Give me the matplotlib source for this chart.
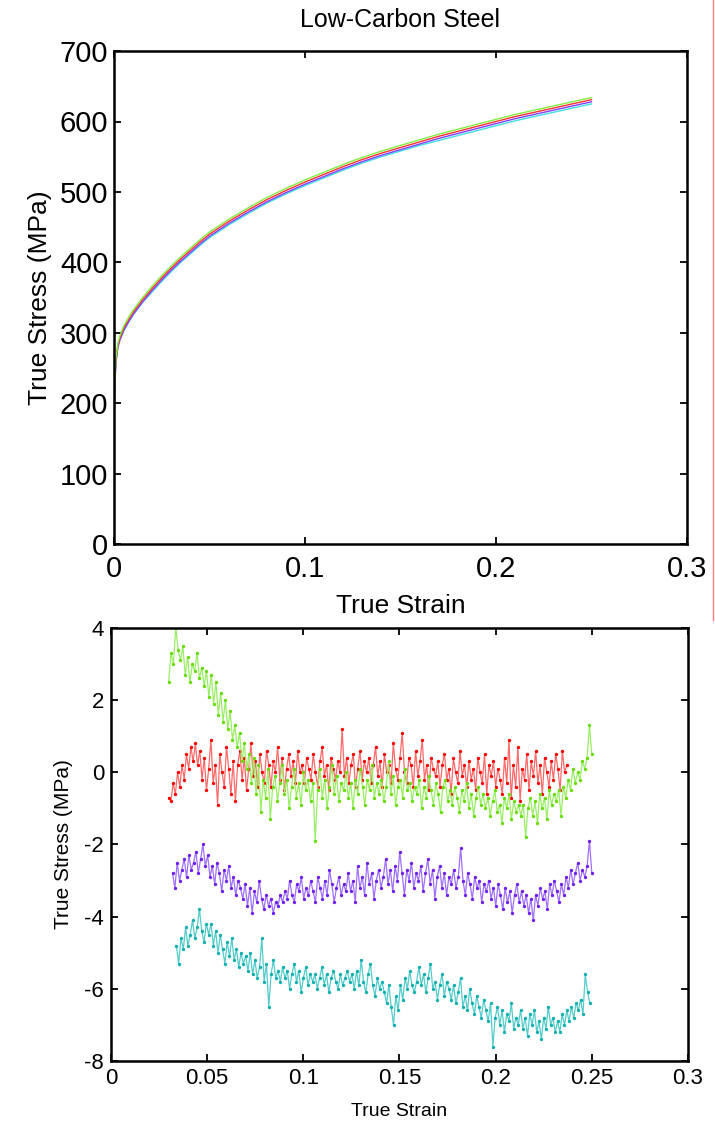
import numpy as np
import matplotlib
matplotlib.use("Agg")
import matplotlib.pyplot as plt
from matplotlib.lines import Line2D

plt.rcParams['font.family'] = ['Liberation Sans', 'DejaVu Sans']
plt.rcParams['axes.unicode_minus'] = False

# top panel: true stress-strain curves (four specimens)
strain_top = [0, 0.0005, 0.001, 0.002, 0.003, 0.005, 0.0075, 0.01, 0.015, 0.02, 0.025,
              0.03, 0.035, 0.04, 0.045, 0.05, 0.06, 0.07, 0.08, 0.09, 0.1, 0.11, 0.12,
              0.13, 0.14, 0.15, 0.16, 0.17, 0.18, 0.19, 0.2, 0.21, 0.22, 0.23, 0.24, 0.25]
stress_red = [165, 235, 260, 282, 292, 306, 318, 329, 347, 363, 378, 392, 405, 417, 429,
              440, 458, 474, 489, 502, 514, 525, 536, 546, 555, 563, 571, 579, 586, 593,
              600, 607, 613, 619, 625, 631]
stress_green = [170, 238, 263, 285, 295, 309, 321, 332, 350, 366, 381, 395, 408, 420, 432,
                443, 461, 477, 492, 505, 517, 528, 539, 549, 558, 566, 574, 582, 589, 596,
                603, 610, 616, 622, 628, 634]
stress_purple = [160, 230, 256, 279, 289, 303, 315, 326, 344, 360, 375, 389, 402, 414, 426,
                 437, 455, 471, 486, 499, 511, 522, 533, 543, 552, 560, 568, 576, 583, 590,
                 597, 604, 610, 616, 622, 628]
stress_cyan = [168, 232, 257, 279, 289, 302, 314, 325, 343, 358, 373, 387, 400, 412, 424,
               435, 453, 469, 484, 497, 509, 520, 531, 541, 550, 558, 566, 573, 580, 587,
               594, 601, 607, 613, 619, 625]

# bottom panel: residuals (evenly sampled between start and end strain)
red_range = (0.030, 0.237)
red_res = [-0.7, -0.8, -0.3, -0.6, 0.0, -0.4, 0.2, -0.2, 0.5, 0.1, 0.7, 0.3, 0.8, 0.2, 0.6,
           -0.2, 0.4, -0.5, 0.1, 0.9, -0.3, 0.2, -0.9, 0.5, 0.0, -0.4, 0.7, 0.1, -0.6, 0.3,
           -0.8, 0.2, 0.6, -0.2, 0.4, -0.5, 0.1, 0.8, -0.1, 0.3, -0.4, 0.5, 0.0, -0.3, 0.6,
           0.2, -0.4, 0.3, 0.0, 0.7, -0.2, 0.4, -0.5, 0.1, 0.5, -0.1, 0.3, -0.3, 0.6, 0.0,
           0.2, -0.3, 0.4, 0.1, -0.2, 0.5, 0.0, -0.4, 0.3, 0.7, -0.1, 0.2, -0.5, 0.4, 0.1,
           -0.2, 0.3, 0.0, 1.2, -0.1, 0.4, -0.3, 0.2, 0.5, -0.4, 0.1, 0.6, -0.2, 0.3, 0.0,
           0.4, -0.3, 0.2, 0.7, -0.1, 0.3, -0.4, 0.5, 0.0, 0.2, -0.3, 0.8, 0.1, -0.2, 0.4,
           1.1, 0.0, -0.3, 0.4, 0.2, -0.4, 0.6, -0.1, 0.3, 0.9, -0.2, 0.2, -0.5, 0.4, 0.1,
           -0.1, 0.3, -0.4, 0.2, 0.5, -0.2, 0.1, -0.6, 0.4, 0.0, -0.3, 0.6, -0.1, 0.2, -0.4,
           0.3, -0.2, 0.1, -0.5, 0.4, 0.0, -0.3, 0.5, -0.6, 0.2, -0.1, 0.3, -0.4, 0.1, -0.2,
           -0.6, 0.4, -0.3, 0.9, -0.7, 0.2, -0.4, 0.7, -0.8, 0.1, -0.2, 0.5, -0.5, 0.3, -0.1,
           0.6, -0.3, 0.2, -0.6, 0.4, 0.0, -0.4, 0.3, -0.2, 0.5, 0.1, -0.5, 0.6, 0.0, 0.2]
green_range = (0.030, 0.250)
green_res = [2.5, 3.3, 3.0, 4.0, 3.4, 3.1, 3.5, 2.7, 3.2, 2.5, 3.0, 2.8, 3.3, 2.6, 2.9,
             2.4, 2.8, 2.1, 2.7, 1.9, 2.5, 1.6, 2.2, 1.4, 2.0, 1.2, 1.7, 0.9, 1.3, 0.7,
             1.1, 0.3, 0.8, 0.1, 0.5, -0.3, 0.4, -0.6, 0.2, -1.1, -0.2, -0.7, 0.1, -1.3, -0.4,
             -0.1, -0.8, -0.3, 0.2, -0.6, -0.2, -1.0, -0.4, 0.1, -0.7, -0.3, -0.9, 0.0, -0.5, -0.2,
             -0.8, -0.3, -1.9, -0.5, 0.1, -0.7, -0.2, -1.0, -0.4, 0.2, -0.6, -0.1, -0.8, -0.3, -0.5,
             0.0, -0.7, -0.3, -1.0, -0.2, -0.6, 0.1, -0.4, -0.9, -0.2, -0.5, 0.2, -0.7, -0.3, -0.6,
             -0.2, -0.8, -0.4, 0.3, -0.6, -0.1, -0.9, -0.4, -0.2, -0.7, 0.1, -0.5, -0.3, -0.8, -0.4,
             -0.6, -0.2, -1.0, -0.4, -0.7, -0.1, -0.5, -0.9, -0.3, -0.6, -1.1, -0.4, -0.2, -0.8, -0.5,
             -0.9, -0.4, -0.7, -1.1, -0.5, -0.8, -0.3, -1.0, -0.6, -1.2, -0.7, -0.4, -0.9, -0.6, -1.0,
             -0.7, -1.2, -0.8, -0.5, -1.1, -0.9, -1.4, -0.7, -1.0, -0.6, -1.3, -0.8, -1.1, -0.9, -1.2,
             -0.9, -1.8, -1.0, -0.7, -1.2, -0.8, -1.4, -0.6, -1.0, -0.7, -1.3, -0.5, -0.9, -0.6, -0.8,
             -0.5, -1.2, -0.4, -0.7, -0.2, -0.5, 0.1, -0.3, 0.0, -0.2, 0.3, 0.1, 0.4, 1.3, 0.5]
purple_range = (0.032, 0.250)
purple_res = [-2.8, -3.2, -2.5, -3.0, -2.7, -2.4, -2.9, -2.3, -2.7, -2.5, -2.2, -2.8, -2.4, -2.0, -2.6,
              -2.3, -2.9, -2.6, -3.1, -2.5, -2.8, -3.3, -2.7, -3.0, -2.6, -3.2, -2.9, -3.4, -3.0, -3.2,
              -3.5, -3.1, -3.7, -3.2, -3.9, -3.3, -3.6, -3.0, -3.5, -3.8, -3.4, -3.7, -3.5, -3.9, -3.6,
              -3.7, -3.4, -3.6, -3.3, -3.5, -3.0, -3.4, -3.6, -3.1, -3.3, -2.9, -3.5, -3.2, -3.4, -3.0,
              -3.3, -3.6, -2.9, -3.2, -3.5, -3.0, -3.4, -2.7, -3.1, -3.6, -3.2, -2.9, -3.4, -3.1, -3.3,
              -2.8, -3.3, -3.0, -3.6, -2.6, -3.2, -2.9, -3.4, -2.5, -3.1, -2.8, -3.5, -3.0, -2.7, -3.2,
              -2.9, -2.4, -3.1, -2.7, -3.3, -2.6, -3.0, -2.2, -2.8, -3.4, -2.7, -3.0, -2.5, -3.2, -2.8,
              -3.0, -2.6, -3.3, -2.8, -2.4, -3.1, -2.7, -3.5, -2.9, -2.6, -3.2, -2.8, -3.4, -2.9, -3.1,
              -2.7, -3.2, -2.9, -2.1, -3.0, -3.4, -2.8, -3.1, -3.5, -2.9, -3.2, -3.0, -3.6, -3.1, -3.3,
              -3.0, -3.5, -3.2, -3.7, -3.1, -3.4, -3.8, -3.2, -3.6, -3.3, -3.9, -3.4, -3.1, -3.6, -3.3,
              -3.7, -3.4, -3.9, -3.5, -4.1, -3.4, -3.7, -3.2, -3.5, -3.3, -3.8, -3.1, -3.4, -3.0, -3.3,
              -3.6, -3.1, -3.4, -2.9, -3.2, -2.7, -3.1, -2.8, -2.5, -3.0, -2.7, -2.9, -2.6, -1.9, -2.8]
cyan_range = (0.034, 0.249)
cyan_res = [-4.8, -5.3, -4.6, -4.9, -4.3, -4.8, -4.5, -4.1, -4.6, -4.3, -3.8, -4.4, -4.7, -4.2, -4.5,
            -4.2, -4.8, -4.4, -5.0, -4.5, -4.9, -5.3, -4.7, -5.1, -4.6, -5.2, -4.9, -5.4, -5.0, -5.3,
            -5.1, -5.5, -5.0, -5.6, -5.2, -5.7, -5.4, -4.6, -5.8, -5.3, -6.5, -5.6, -5.2, -5.7, -5.5,
            -5.8, -5.4, -5.7, -5.5, -6.0, -5.6, -5.3, -5.8, -5.5, -6.1, -5.7, -5.4, -5.9, -5.6, -5.8,
            -5.6, -6.0, -5.7, -5.4, -5.9, -5.6, -6.1, -5.7, -5.5, -5.8, -6.0, -5.6, -5.9, -5.7, -5.5,
            -5.8, -5.6, -6.0, -5.5, -5.9, -5.2, -5.8, -6.1, -5.6, -5.3, -5.9, -6.2, -5.7, -6.0, -5.8,
            -6.1, -6.4, -5.9, -6.5, -7.0, -6.2, -6.6, -5.9, -6.3, -5.7, -6.0, -5.5, -5.9, -6.1, -5.8,
            -5.4, -5.9, -5.6, -6.1, -5.7, -5.3, -6.0, -5.8, -6.3, -5.9, -5.6, -6.2, -5.8, -6.0, -6.3,
            -5.9, -6.4, -6.1, -5.7, -6.5, -6.2, -6.6, -6.0, -6.4, -6.7, -6.2, -6.5, -6.8, -6.3, -6.6,
            -6.9, -6.4, -7.6, -6.8, -6.5, -7.0, -6.6, -7.2, -6.7, -6.9, -6.4, -7.1, -6.8, -7.0, -6.6,
            -7.1, -6.8, -7.3, -6.7, -7.0, -6.6, -7.2, -6.9, -7.4, -6.8, -7.1, -6.5, -7.0, -6.8, -7.2,
            -6.9, -7.2, -6.7, -7.0, -6.6, -6.9, -6.5, -6.8, -6.4, -6.6, -6.3, -6.7, -5.6, -6.1, -6.4]

fig = plt.figure(figsize=(7.15, 11.25), dpi=100)

def style(ax, size, pad):
    ax.tick_params(direction='in', top=True, right=True, length=5, width=1.3,
                   labelsize=size, pad=pad)
    for sp in ax.spines.values():
        sp.set_linewidth(1.8)

# top panel
ax1 = fig.add_axes([0.1594, 0.5164, 0.8014, 0.4382])
for ys, c in [(stress_cyan, '#40e0e0'), (stress_purple, '#8040ff'),
              (stress_red, '#ff3030'), (stress_green, '#80f040')]:
    ax1.plot(strain_top, ys, color=c, lw=1.0)
ax1.set_xlim(0, 0.3)
ax1.set_ylim(0, 700)
ax1.set_xticks([0, 0.1, 0.2, 0.3])
ax1.set_xticklabels(['0', '0.1', '0.2', '0.3'])
ax1.set_yticks(range(0, 701, 100))
style(ax1, 21, 4)
ax1.tick_params(axis='x', pad=8)
ax1.set_title('Low-Carbon Steel', fontsize=18, pad=17)
ax1.set_xlabel('True Strain', fontsize=19, labelpad=8)
ax1.set_ylabel('True Stress (MPa)', fontsize=19, labelpad=6)

# bottom panel
ax2 = fig.add_axes([0.1552, 0.0569, 0.807, 0.3849])
for rng, vals, line_c, dot_c in [(red_range, red_res, '#ff6a6a', '#ff0000'),
                                 (green_range, green_res, '#9aee66', '#66dd00'),
                                 (purple_range, purple_res, '#a070ff', '#7020ee'),
                                 (cyan_range, cyan_res, '#55cccc', '#10b0b0')]:
    xs = np.linspace(rng[0], rng[1], len(vals))
    ax2.plot(xs, vals, '-', color=line_c, lw=0.9)
    ax2.plot(xs, vals, '.', color=dot_c, ms=2.8)
ax2.set_xlim(0, 0.3)
ax2.set_ylim(-8, 4)
ax2.set_xticks([0, 0.05, 0.1, 0.15, 0.2, 0.25, 0.3])
ax2.set_xticklabels(['0', '0.05', '0.1', '0.15', '0.2', '0.25', '0.3'])
ax2.set_yticks([-8, -6, -4, -2, 0, 2, 4])
style(ax2, 16, 5)
ax2.set_xlabel('True Strain', fontsize=14, labelpad=10)
ax2.set_ylabel('True Stress (MPa)', fontsize=15, labelpad=8)

# thin red vertical line at right edge
fig.add_artist(Line2D([713 / 715, 713 / 715], [1.0, 1 - 620 / 1125],
                      transform=fig.transFigure, color='#ff8080', lw=1.0))

fig.savefig('out.png', dpi=100)
